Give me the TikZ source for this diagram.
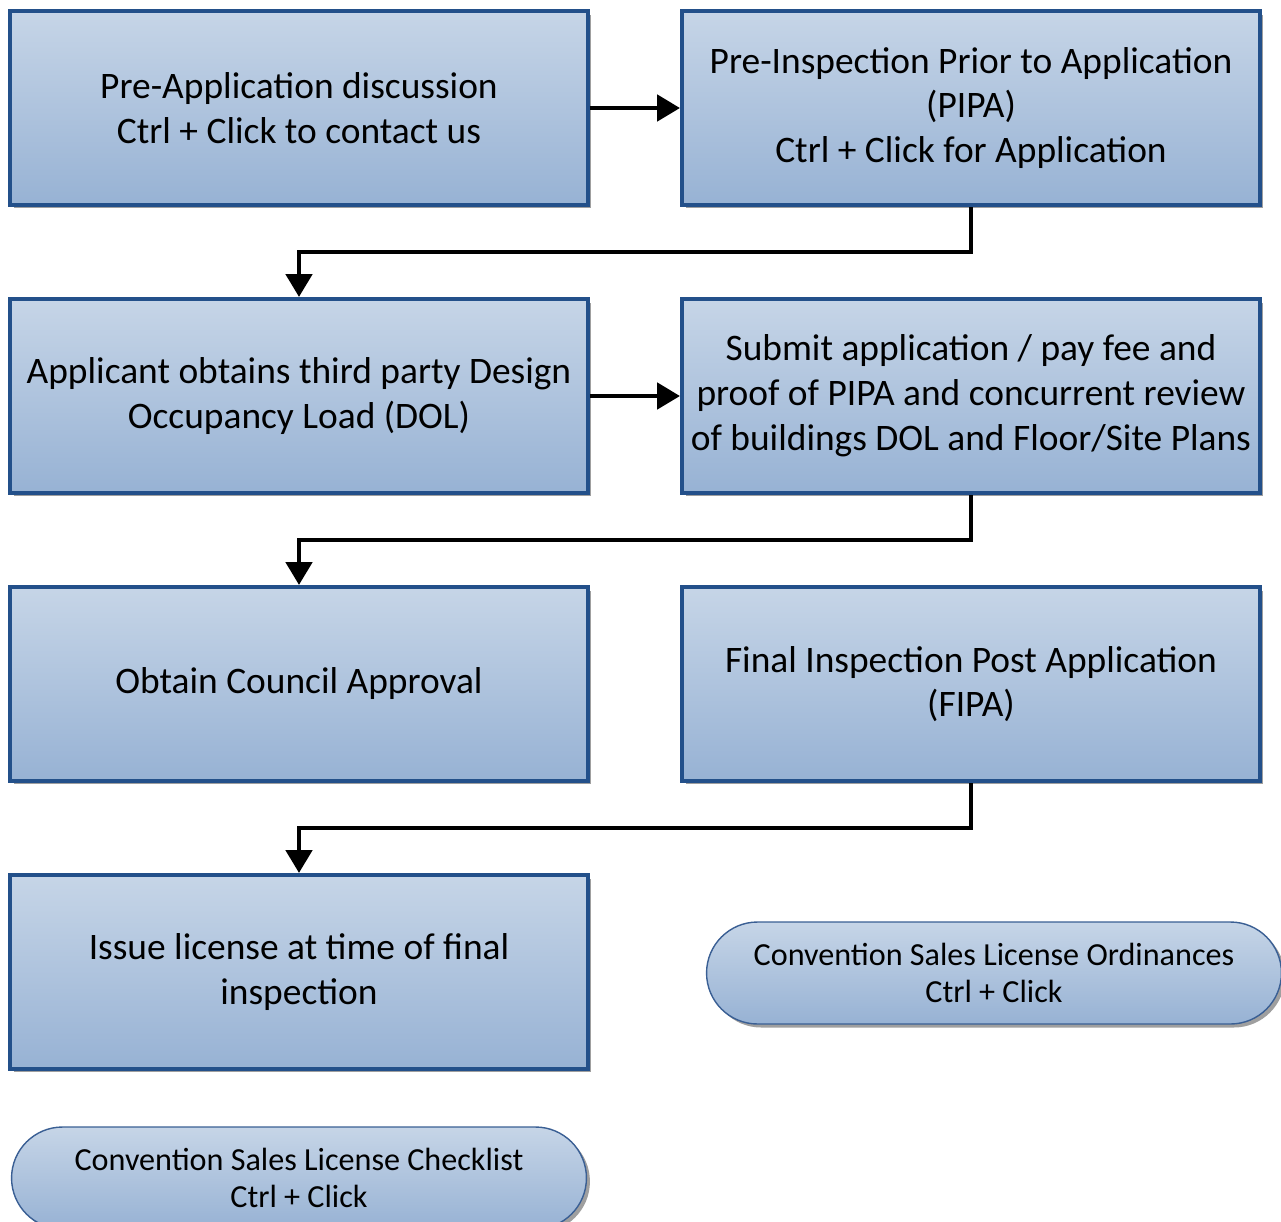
\documentclass[tikz,border=0pt]{standalone}
\usepackage{fontspec}
\setmainfont{Carlito}
\usetikzlibrary{positioning, arrows.meta, shapes, shadows}
\definecolor{boxedge}{HTML}{23508A}
\definecolor{boxtop}{HTML}{C6D5E7}
\definecolor{boxbot}{HTML}{97B2D4}
\definecolor{pilledge}{HTML}{3A5F94}
\tikzset{
    x=0.02cm, y=-0.02cm, % one unit is one pixel of the layout
    stepbox/.style={draw=boxedge, line width=2.3pt, top color=boxtop, bottom color=boxbot,
        minimum width=11.56cm, minimum height=3.88cm, align=center, inner sep=0pt,
        font=\fontsize{21.3}{25.5}\selectfont,
        drop shadow={shadow xshift=0.07cm, shadow yshift=-0.07cm, fill=gray!75, opacity=1}}, % the main boxes
    linkbox/.style={draw=pilledge, line width=0.8pt, top color=boxtop, bottom color=boxbot,
        rounded rectangle, minimum width=11.5cm, minimum height=2.04cm, align=center, inner sep=0pt,
        font=\fontsize{18.3}{21.5}\selectfont,
        drop shadow={shadow xshift=0.07cm, shadow yshift=-0.07cm, fill=gray!75, opacity=1}}, % the link pills
    flow/.style={line width=2.8pt, -{Triangle[length=0.46cm, width=0.52cm]}}, % the connectors
}

\begin{document}
\begin{tikzpicture}
            \useasboundingbox (0,0) rectangle (1281,1221);
            \node[stepbox] (pre) at (299,108) {Pre-Application discussion\\Ctrl + Click to contact us};
            \node[stepbox] (pipa) at (971,108) {Pre-Inspection Prior to Application\\(PIPA)\\Ctrl + Click for Application};
            \node[stepbox] (dol) at (299,396) {Applicant obtains third party Design\\Occupancy Load (DOL)};
            \node[stepbox] (submit) at (971,396) {Submit application / pay fee and\\proof of PIPA and concurrent review\\of buildings DOL and Floor/Site Plans};
            \node[stepbox] (council) at (299,684) {Obtain Council Approval};
            \node[stepbox] (fipa) at (971,684) {Final Inspection Post Application\\(FIPA)};
            \node[stepbox] (issue) at (299,972) {Issue license at time of final\\inspection};
            \node[linkbox] (ord) at (994,973) {Convention Sales License Ordinances\\Ctrl + Click};
            \node[linkbox] (check) at (299,1178) {Convention Sales License Checklist\\Ctrl + Click};

            \draw[flow] (pre) -- (pipa);
            \draw[flow] (pipa.south) -- ++(0,-0.9cm) -| (dol.north);
            \draw[flow] (dol) -- (submit);
            \draw[flow] (submit.south) -- ++(0,-0.9cm) -| (council.north);
            \draw[flow] (fipa.south) -- ++(0,-0.9cm) -| (issue.north);
        \end{tikzpicture}
\end{document}
